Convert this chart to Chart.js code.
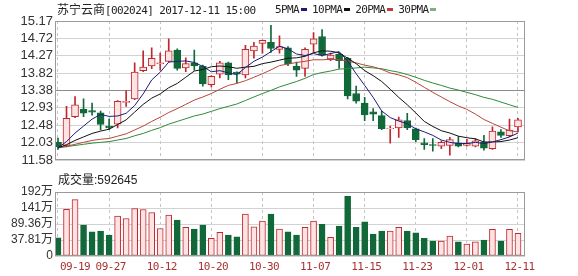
<!DOCTYPE html>
<html><head><meta charset="utf-8">
<script src="https://cdn.jsdelivr.net/npm/chart.js@4.4.1/dist/chart.umd.min.js"></script>
<style>
html,body{margin:0;padding:0;background:#fff;}
#wrap{position:relative;width:578px;height:276px;overflow:hidden;background:#fff;}
canvas{position:absolute;left:0;}
#c1{top:0;}
#c2{top:170px;}
.t{position:absolute;white-space:nowrap;z-index:5;color:#222;}
.mono{font-family:"DejaVu Sans Mono","Liberation Mono",monospace;font-size:11px;letter-spacing:-0.6px;}
.cjk{font-family:"Noto Sans CJK SC",sans-serif;font-size:12px;letter-spacing:0;}
.dash{display:inline-block;width:6px;height:3px;vertical-align:middle;margin:0 5px 0 2px;position:relative;top:-1px;}
.dl{position:absolute;white-space:nowrap;z-index:5;color:#a83232;font-family:"DejaVu Sans Mono","Liberation Mono",monospace;font-size:11px;letter-spacing:-0.6px;line-height:12px;}
</style></head>
<body>
<div id="wrap">
<canvas id="c1" width="578" height="170"></canvas>
<canvas id="c2" width="578" height="106"></canvas>
<div class="t" style="left:57px;top:2px;line-height:14px;"><span class="cjk">苏宁云商</span><span class="mono">[002024] 2017-12-11 15:00</span></div>
<div class="t mono" style="left:275px;top:3px;line-height:14px;">5PMA<span class="dash" style="background:#1c1c78"></span>10PMA<span class="dash" style="background:#111"></span>20PMA<span class="dash" style="background:#c23a3a"></span>30PMA<span class="dash" style="background:#7fb07f"></span></div>
<div class="t" style="left:58px;top:172px;line-height:14px;font-family:'Liberation Sans','Noto Sans CJK SC',sans-serif;font-size:12px;"><span class="cjk">成交量</span>:592645</div>
</div>
<script>
// ---- data ----
const dates = ['09-19','09-20','09-21','09-22','09-25','09-26','09-27','09-28','09-29','10-09','10-10','10-11','10-12','10-13','10-16','10-17','10-18','10-19','10-20','10-23','10-24','10-25','10-26','10-27','10-30','10-31','11-01','11-02','11-03','11-06','11-07','11-08','11-09','11-10','11-13','11-14','11-15','11-16','11-17','11-20','11-21','11-22','11-23','11-24','11-27','11-28','11-29','11-30','12-01','12-04','12-05','12-06','12-07','12-08','12-11'];
const xTickLabels = ['09-19','09-27','10-12','10-20','10-30','11-07','11-15','11-23','12-01','12-11'];
const openP  = [12.04,11.96,12.70,12.89,12.86,12.80,12.46,12.51,13.07,13.16,13.89,14.01,14.06,14.13,14.42,13.96,14.09,14.01,13.53,13.80,14.09,13.85,13.78,14.40,14.59,14.62,14.44,14.48,14.00,13.95,14.57,14.77,14.19,14.32,14.21,13.30,13.05,12.83,12.73,12.39,12.41,12.60,12.39,12.03,11.98,11.94,11.96,12.03,11.96,11.94,12.04,11.88,12.31,12.21,12.44];
const highP  = [12.15,12.97,13.22,13.16,13.05,12.85,12.64,13.12,13.37,14.09,14.40,14.48,14.34,14.71,14.45,14.22,14.42,14.03,13.76,14.13,14.11,13.86,14.54,14.62,14.68,15.06,14.79,14.51,14.11,14.48,14.87,14.95,14.34,14.34,14.23,13.49,13.20,12.91,12.85,12.46,12.69,12.79,12.41,12.14,12.14,12.08,12.17,12.19,12.12,12.14,12.22,12.44,12.37,12.64,12.66];
const lowP   = [11.86,11.92,12.68,12.70,12.74,12.36,12.37,12.41,12.97,13.14,13.86,13.94,13.90,14.12,13.90,13.86,13.90,13.49,13.47,13.70,13.66,13.57,13.70,14.21,14.34,14.36,14.34,14.02,13.74,13.74,14.36,14.26,14.15,13.95,13.16,13.05,12.60,12.60,12.37,12.02,12.17,12.37,12.06,11.86,11.81,11.88,11.71,11.92,11.94,11.92,11.84,11.86,12.17,12.19,12.31];
const closeP = [11.92,12.66,13.01,12.79,12.82,12.50,12.41,13.10,13.10,13.85,13.98,14.21,14.09,14.40,13.95,14.07,14.01,13.55,13.74,14.09,13.78,13.80,14.44,14.52,14.67,14.46,14.51,14.07,13.90,14.44,14.71,14.29,14.29,14.15,13.24,13.10,12.75,12.77,12.39,12.41,12.62,12.41,12.11,11.98,11.96,12.04,12.11,11.94,12.02,12.08,11.89,12.33,12.22,12.36,12.62];
const volume = [45,137,168,85.7,64,66.4,53.6,114.5,107,139.2,136,126.4,75,117.7,101.7,78.3,72.8,85.7,43,62.3,53.6,48.1,121,80.2,98.5,121,72.8,64,53.6,78.3,98.5,87.9,46.2,82.5,178.7,78.3,96.2,56.8,66.4,66.4,78.3,66.4,61,43,34.4,34.4,50.4,32.1,24.7,32.1,37.6,71.9,34.4,71.9,59.26];
const ma5  = [11.90,12.06,12.28,12.46,12.64,12.76,12.71,12.72,12.79,12.99,13.29,13.65,13.85,14.11,14.13,14.14,14.10,14.00,13.86,13.89,13.83,13.79,13.97,14.13,14.24,14.38,14.52,14.45,14.32,14.28,14.33,14.28,14.33,14.38,14.14,13.81,13.51,13.20,12.85,12.68,12.59,12.52,12.39,12.31,12.22,12.10,12.04,12.01,12.01,12.04,12.01,12.05,12.11,12.18,12.28];
const ma10 = [11.90,11.98,12.09,12.18,12.27,12.33,12.38,12.50,12.62,12.82,13.02,13.18,13.29,13.45,13.56,13.72,13.88,13.92,13.99,14.01,13.99,13.95,13.98,14.00,14.07,14.11,14.16,14.21,14.22,14.26,14.35,14.40,14.39,14.35,14.21,14.07,13.89,13.76,13.61,13.41,13.20,13.01,12.80,12.58,12.45,12.34,12.28,12.20,12.16,12.13,12.05,12.05,12.06,12.10,12.16];
const ma20 = [11.90,11.94,11.99,12.04,12.09,12.12,12.14,12.20,12.26,12.36,12.46,12.58,12.69,12.81,12.91,13.02,13.13,13.21,13.30,13.41,13.51,13.56,13.63,13.72,13.81,13.91,14.02,14.06,14.10,14.13,14.17,14.17,14.18,14.17,14.14,14.09,14.03,13.99,13.92,13.83,13.78,13.71,13.59,13.46,13.33,13.21,13.09,12.98,12.89,12.77,12.63,12.53,12.43,12.34,12.31];
const ma30 = [11.90,11.93,11.96,11.99,12.02,12.04,12.06,12.10,12.14,12.21,12.27,12.35,12.42,12.51,12.58,12.65,12.72,12.77,12.84,12.91,12.97,13.03,13.12,13.21,13.30,13.38,13.47,13.54,13.61,13.69,13.79,13.84,13.88,13.93,13.94,13.96,13.98,13.96,13.94,13.89,13.85,13.79,13.72,13.64,13.57,13.51,13.44,13.39,13.33,13.27,13.20,13.15,13.08,13.01,12.94];
const priceTickLabels = ['11.58','12.03','12.48','12.93','13.38','13.82','14.27','14.72','15.17'];
const volTickValues = [-13.74,37.81,89.36,140.91,192.46];
const volTickLabels = ['0','37.81万','89.36万','141万','192万'];

// ---- styles ----
const UP_LINE='#c0282d', UP_FILL='#fde3e3', DOWN='#11693a';
const isUp = i => closeP[i] >= openP[i];
const tickIdx = xTickLabels.map(l => dates.indexOf(l) + 1);
const X_MIN = 0.648, X_MAX = 55.822;

const boxPlugin = {id:'box', afterDraw(c){
  const a=c.chartArea, ctx=c.ctx; ctx.save(); ctx.strokeStyle='#9a9a9a'; ctx.lineWidth=1;
  ctx.strokeRect(Math.round(a.left)+0.5, Math.round(a.top)+0.5, Math.round(a.right)-Math.round(a.left)-1, Math.round(a.bottom)-Math.round(a.top)-1);
  ctx.restore();
}};

const xScale = () => ({
  type:'linear', min:X_MIN, max:X_MAX, offset:false,
  afterBuildTicks: s => { s.ticks = tickIdx.map(v => ({value:v})); },
  ticks:{display:false},
  grid:{color:'#c4c4c4', drawTicks:false, lineWidth:1, offset:false},
  border:{display:false, dash:[3,3]},
  afterFit: s => { s.height = 0; }
});

const pts = arr => arr.map((v,i) => ({x:i+1, y:v}));
const lineDs = (label, arr, color) => ({type:'line', label, data:pts(arr), borderColor:color, borderWidth:1, pointRadius:0, tension:0, order:1});

new Chart(document.getElementById('c1'), {
  data:{datasets:[
    {type:'bar', label:'wick', data:dates.map((d,i)=>({x:i+1, y:[lowP[i], highP[i]]})),
      backgroundColor:dates.map((d,i)=>isUp(i)?UP_LINE:DOWN), borderWidth:0, barThickness:1, grouped:false, order:3},
    {type:'bar', label:'body', data:dates.map((d,i)=>({x:i+1, y:[openP[i], closeP[i]]})),
      backgroundColor:dates.map((d,i)=>isUp(i)?UP_FILL:DOWN), borderColor:dates.map((d,i)=>isUp(i)?UP_LINE:DOWN),
      borderWidth:1, borderSkipped:false, barThickness:7, grouped:false, order:2},
    lineDs('5PMA', ma5, '#1c1c78'),
    lineDs('10PMA', ma10, '#111111'),
    lineDs('20PMA', ma20, '#b8463e'),
    lineDs('30PMA', ma30, '#2f8a3a')
  ]},
  options:{
    responsive:false, animation:false, events:[],
    layout:{padding:{left:0, right:53, top:21, bottom:4}},
    plugins:{legend:{display:false}, tooltip:{enabled:false}},
    scales:{
      x: xScale(),
      y:{
        min:parseFloat(priceTickLabels[0]), max:parseFloat(priceTickLabels[priceTickLabels.length-1]),
        afterBuildTicks: s => { s.ticks = priceTickLabels.map(l => ({value:parseFloat(l)})); },
        ticks:{autoSkip:false, callback:(v,i)=>priceTickLabels[i], color:'#333', padding:2, font:{family:'Liberation Sans, Arial, sans-serif', size:13}},
        grid:{color: c => c.index===4 ? '#8c8c8c' : '#d2d2d2', drawTicks:false, lineWidth:1},
        border:{display:false},
        afterFit: s => { s.width = 55; }
      }
    }
  },
  plugins:[boxPlugin]
});

const volChart = new Chart(document.getElementById('c2'), {
  data:{datasets:[
    {type:'bar', label:'成交量', data:dates.map((d,i)=>({x:i+1, y:volume[i]})), base:volTickValues[0],
      backgroundColor:dates.map((d,i)=>isUp(i)?UP_FILL:DOWN), borderColor:dates.map((d,i)=>isUp(i)?UP_LINE:DOWN),
      borderWidth:1, borderSkipped:false, barThickness:6, grouped:false}
  ]},
  options:{
    responsive:false, animation:false, events:[],
    layout:{padding:{left:0, right:53, top:22, bottom:20}},
    plugins:{legend:{display:false}, tooltip:{enabled:false}},
    scales:{
      x: xScale(),
      y:{
        min:volTickValues[0], max:volTickValues[volTickValues.length-1],
        afterBuildTicks: s => { s.ticks = volTickValues.map(v => ({value:v})); },
        ticks:{autoSkip:false, callback:(v,i)=>volTickLabels[i], color:'#333', padding:2, font:{family:'Liberation Sans, Noto Sans CJK SC, sans-serif', size:12}},
        grid:{color:'#d2d2d2', drawTicks:false, lineWidth:1},
        border:{display:false},
        afterFit: s => { s.width = 55; }
      }
    }
  },
  plugins:[boxPlugin]
});

// date labels as real text, placed with the library's x scale
(function(){
  const wrap = document.getElementById('wrap');
  const sx = volChart.scales.x, area = volChart.chartArea;
  tickIdx.forEach((v, k) => {
    const el = document.createElement('div');
    el.className = 'dl';
    el.textContent = xTickLabels[k];
    wrap.appendChild(el);
    const w = el.offsetWidth;
    let left = sx.getPixelForValue(v) + 1.5 - w/2;
    if (left < area.left + 5) left = area.left + 5;
    el.style.left = left + 'px';
    el.style.top = (170 + area.bottom + 5) + 'px';
  });
})();
</script>
</body></html>
